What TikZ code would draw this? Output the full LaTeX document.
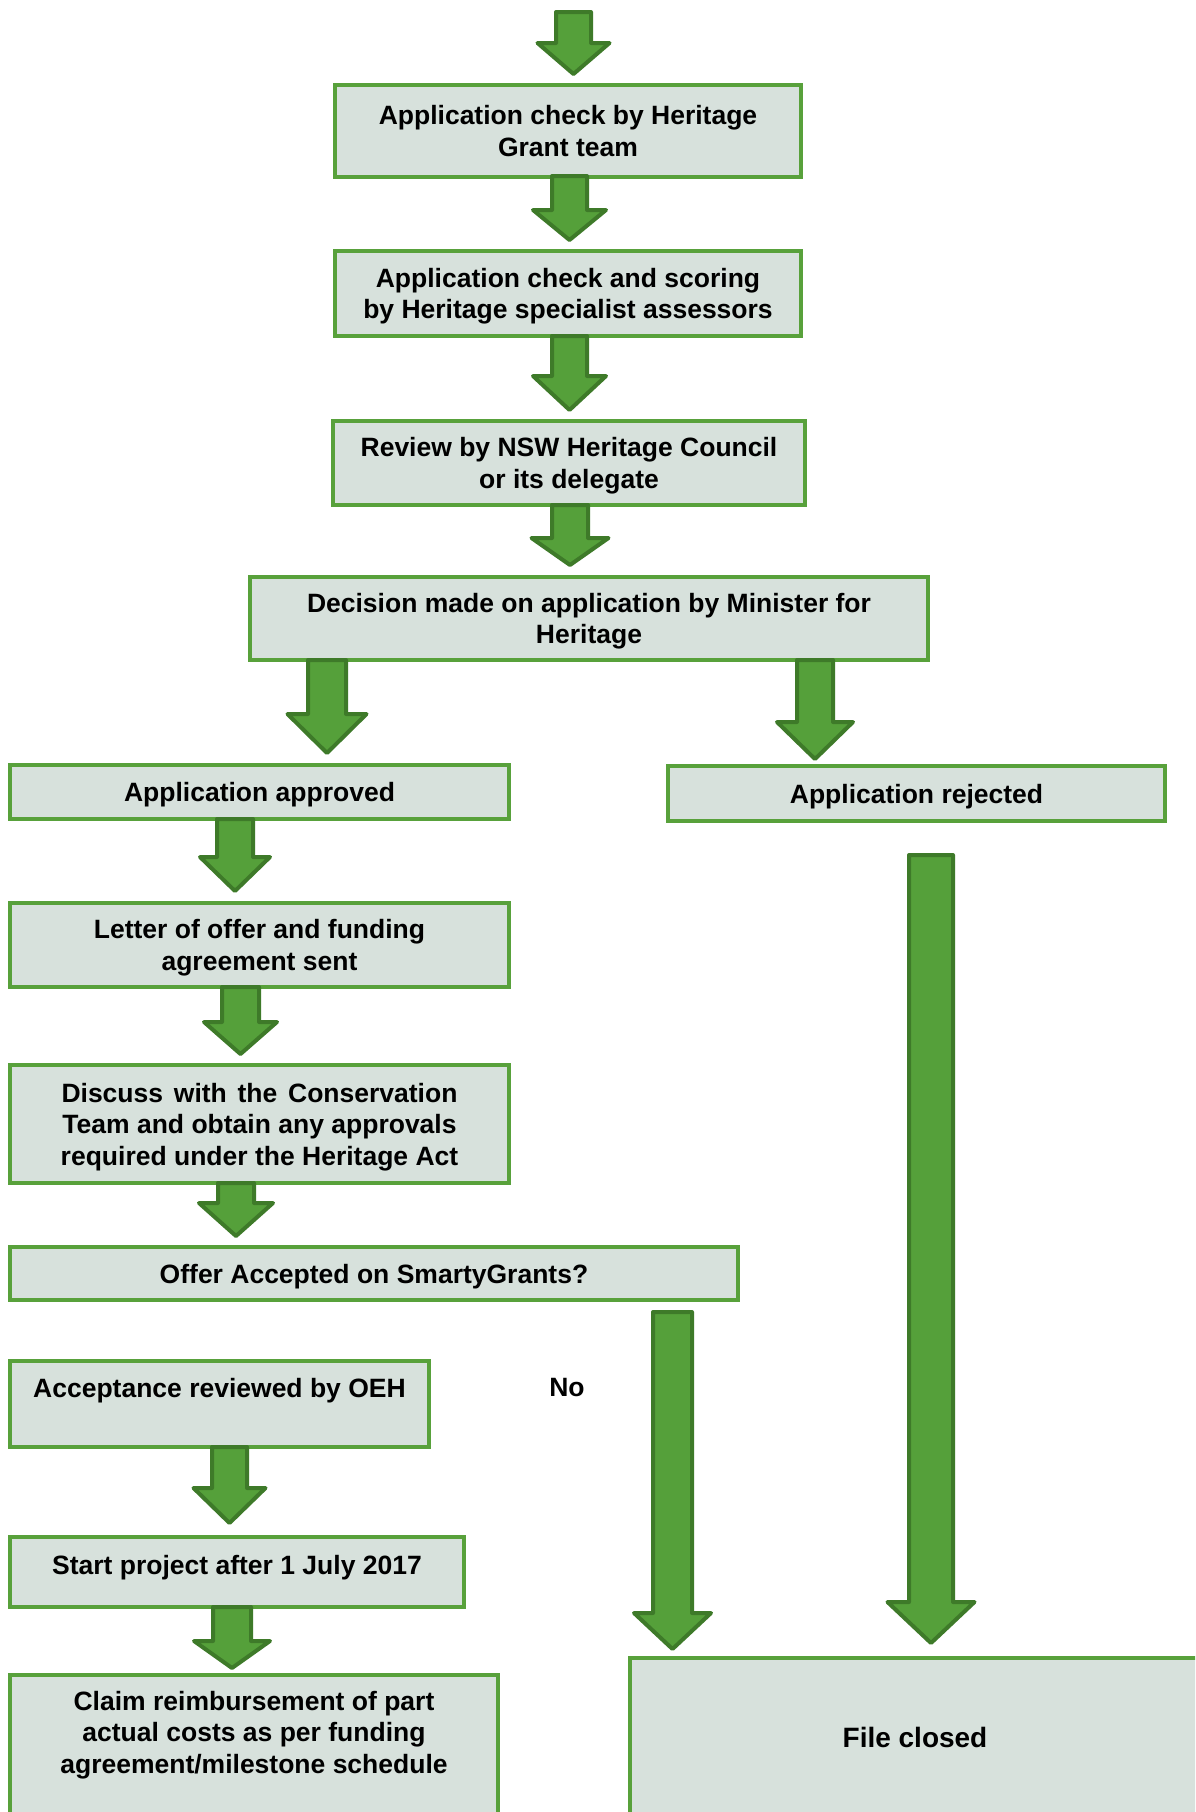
\documentclass[tikz,border=0pt]{standalone}
\usepackage{fontspec}
\setmainfont{Liberation Sans}
\definecolor{boxfill}{HTML}{D7E1DC}
\definecolor{boxline}{HTML}{58A13B}
\definecolor{arrfill}{HTML}{55A03A}
\definecolor{arrline}{HTML}{3E7A29}
\tikzset{
 box/.style={draw=boxline, fill=boxfill, line width=4pt, inner sep=0pt, align=center, text depth=0pt, font=\bfseries\fontsize{26.5}{31.5}\selectfont},
 txt/.style={inner sep=0pt, align=center, font=\bfseries\fontsize{26.5}{31.5}\selectfont},
 blockarrow/.style={fill=arrfill, draw=arrline, line width=4pt, line join=round}
}
% centre x, top y, shaft half width, head y, head half width, tip y
\newcommand\barrow[6]{\draw[blockarrow] ({#1-#3},#2) -- ({#1+#3},#2) -- ({#1+#3},#4) -- ({#1+#5},#4) -- (#1,#6) -- ({#1-#5},#4) -- ({#1-#3},#4) -- cycle;}
\begin{document}
\begin{tikzpicture}[x=1pt,y=-1pt]
\useasboundingbox (0,0) rectangle (1195,1812);
\clip (0,0) rectangle (1195,1812);
\fill[white] (0,0) rectangle (1195,1812);

\node[box, minimum width=466pt, minimum height=92pt] (b1) at (568,131) {Application check by Heritage\\Grant team};
\node[box, minimum width=466pt, minimum height=85pt] (b2) at (568,293.5) {Application check and scoring\\by Heritage specialist assessors};
\node[box, minimum width=472pt, minimum height=84pt] (b3) at (569,463) {Review by NSW Heritage Council\\or its delegate};
\node[box, minimum width=678pt, minimum height=83pt] (b4) at (589,618.5) {Decision made on application by Minister for\\Heritage};
\node[box, minimum width=499pt, minimum height=54pt] (appr) at (259.5,792) {Application approved};
\node[box, minimum width=497pt, minimum height=55pt] (rej) at (916.5,793.5) {Application rejected};
\node[box, minimum width=499pt, minimum height=84pt] (letter) at (259.5,945) {Letter of offer and funding\\agreement sent};
\node[box, minimum width=499pt, minimum height=118pt] (disc) at (259.5,1124) {\makebox[396pt][s]{Discuss with the Conservation}\\Team and obtain any approvals\\required under the Heritage Act};
\node[box, minimum width=728pt, minimum height=53pt] (offer) at (374,1273.5) {Offer Accepted on SmartyGrants?};
\node[box, minimum width=419pt, minimum height=86pt] (acc) at (219.5,1404) {};
\node[txt] (accT) at (219.5,1391) {Acceptance reviewed by OEH};
\node[box, minimum width=454pt, minimum height=70pt] (start) at (237,1572) {};
\node[txt] (startT) at (237,1568) {Start project after 1 July 2017};
\node[box, minimum width=488pt, minimum height=153pt] (claim) at (254,1751.5) {};
\node[txt] (claimT) at (254,1735) {Claim reimbursement of part\\actual costs as per funding\\agreement/milestone schedule};
\node[box, minimum width=583pt, minimum height=160pt] (closed) at (921.5,1738) {};
\node[txt, font=\bfseries\fontsize{28}{32}\selectfont] (closedT) at (915,1737) {File closed};
\node[txt] (no) at (567,1387) {No};

\barrow{573.5}{12}{17.5}{43}{36}{74}
\barrow{569.5}{176}{17.5}{210}{36.5}{240}
\barrow{569.5}{336}{17.5}{376}{36.5}{410}
\barrow{570}{505}{18}{538}{38.5}{565}
\barrow{327}{660}{19}{714}{39.5}{753}
\barrow{815}{660}{18}{722}{38}{759}
\barrow{235}{819}{18}{857}{35}{891}
\barrow{240.5}{987}{18.5}{1022}{36.5}{1054}
\barrow{236}{1183}{18}{1203}{37}{1236}
\barrow{229.5}{1447}{17.5}{1488}{36}{1523}
\barrow{232}{1607}{19}{1641}{38}{1668}
\barrow{672.5}{1312}{19.5}{1613}{38.5}{1649}
\barrow{931}{855}{22}{1602}{43.5}{1643}
\end{tikzpicture}
\end{document}
